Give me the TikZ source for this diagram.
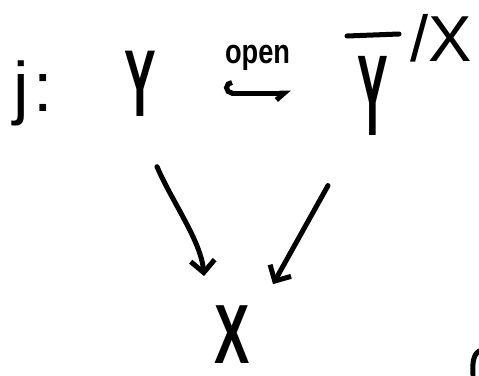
\documentclass[tikz,border=0pt]{standalone}
\usepackage{fontspec}
\setmainfont{Liberation Sans}
\usetikzlibrary{arrows.meta}
\begin{document}
\begin{tikzpicture}[x=1pt,y=-1pt,
  hand/.style={inner sep=0pt, outer sep=0pt},
  ink/.style={line width=5pt, line cap=round, line join=round},
  arr/.style={ink, -{Straight Barb[length=12pt,width=24pt]}}]
\useasboundingbox (0,0) rectangle (479,375);
% labels
\node[hand, font=\fontsize{70}{70}\selectfont] (j) at (33,93) {j\hspace{4pt}:};
\node[hand, font=\bfseries\fontsize{95}{95}\selectfont] (Y) at (140,84) {\scalebox{0.5}[1]{Y}};
\node[hand, font=\bfseries\fontsize{115}{115}\selectfont] (Yb) at (373,96) {\scalebox{0.4}[1]{Y}};
\draw[ink] (347,36) -- (399,34);
\node[hand, font=\fontsize{65}{65}\selectfont, anchor=west] (sl) at (410,38) {/X};
\node[hand, font=\bfseries\fontsize{84}{84}\selectfont] (X) at (232,335) {\scalebox{0.63}[1]{X}};
% hooked arrow
\coordinate (hs) at (224,93);
\coordinate (he) at (291,93);
\draw[ink, {Hooks[right,length=8pt,width=26pt]}-{Straight Barb[right,length=8pt,width=14pt]}] (hs) -- (he)
  node[midway, above=22pt, hand, font=\bfseries\fontsize{34}{34}\selectfont] (op) {\scalebox{0.8}[1]{open}};
% down arrows
\draw[arr] ([shift={(17,50)}]Y.south) .. controls +(15,35) and +(-3,-35) .. ([shift={(-28,-30)}]X.north);
\draw[arr] ([shift={(-45,50)}]Yb.south) -- ([shift={(41,-22)}]X.north);
% fragment at lower right
\draw[ink] (479,351) .. controls (474,354) and (472,362) .. (473,375);
\end{tikzpicture}
\end{document}
